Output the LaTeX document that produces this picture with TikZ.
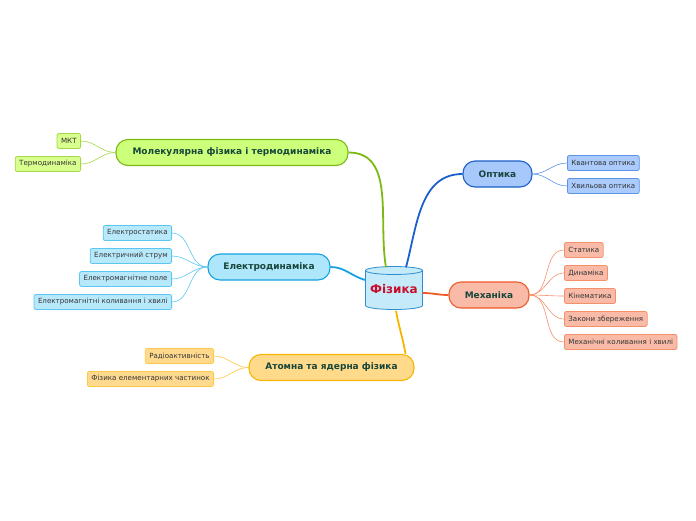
\documentclass[tikz,border=0pt]{standalone}
\usepackage{fontspec}
\setmainfont{DejaVu Sans}
\usetikzlibrary{calc}
\definecolor{cylfill}{HTML}{C5EAF9}
\definecolor{cylline}{HTML}{2E8FD0}
\definecolor{fiztext}{HTML}{C8102E}
\definecolor{maintext}{HTML}{17463A}
\definecolor{childtext}{HTML}{333333}
\definecolor{molfill}{HTML}{CCFF7A}\definecolor{molline}{HTML}{7DB813}
\definecolor{molcfill}{HTML}{D9FF8F}\definecolor{molcline}{HTML}{A6D64A}
\definecolor{elfill}{HTML}{AEE6FB}\definecolor{elline}{HTML}{16A2E2}
\definecolor{elcfill}{HTML}{B8E9FB}\definecolor{elcline}{HTML}{5CC6F2}
\definecolor{atfill}{HTML}{FFDA8A}\definecolor{atline}{HTML}{F7B500}
\definecolor{atcfill}{HTML}{FFDA8E}\definecolor{atcline}{HTML}{FFC846}
\definecolor{opfill}{HTML}{A6C8FA}\definecolor{opline}{HTML}{1A5FCC}
\definecolor{opcfill}{HTML}{AACBFB}\definecolor{opcline}{HTML}{5E93EA}
\definecolor{mefill}{HTML}{F9BBA8}\definecolor{meline}{HTML}{EF5A28}
\definecolor{mecfill}{HTML}{F9BBA8}\definecolor{mecline}{HTML}{F5906B}
\tikzset{
  mainbox/.style={rounded corners=12pt, line width=1.1pt, minimum height=26pt, inner xsep=4pt,
    font=\fontsize{9}{11}\selectfont\bfseries, text=maintext},
  childbox/.style={rounded corners=2pt, line width=0.8pt, minimum height=15pt, inner xsep=4pt, inner ysep=0pt,
    font=\fontsize{7.1}{8.5}\selectfont, text=childtext},
  mainlink/.style={line width=1.8pt},
  childlink/.style={line width=0.6pt},
  cylshape/.style={draw=cylline, fill=cylfill, line width=0.8pt},
}
\begin{document}
\begin{tikzpicture}[x=1pt,y=-1pt]
\useasboundingbox (0,0) rectangle (696,520);
% center cylinder
\path[cylshape] (365.5,270.5) -- (365.5,305.5)
  arc[start angle=180, end angle=0, x radius=28.5, y radius=4]
  -- (422.5,270.5)
  arc[start angle=0, end angle=-180, x radius=28.5, y radius=4] -- cycle;
\draw[cylshape, fill=none] (365.5,270.5) arc[start angle=180, end angle=0, x radius=28.5, y radius=4];
\node[minimum width=57pt, minimum height=43pt, inner sep=0pt,
  font=\fontsize{12}{14}\selectfont\bfseries, text=fiztext] (fiz) at (394,289) {Фізика};
% main nodes
\node[mainbox, fill=molfill, draw=molline, minimum width=232pt] (mol) at (232,152.5) {Молекулярна фізика і термодинаміка};
\node[mainbox, fill=elfill, draw=elline, minimum width=122pt] (el) at (269,267) {Електродинаміка};
\node[mainbox, fill=atfill, draw=atline, minimum width=165pt] (at) at (331.5,367.5) {Атомна та ядерна фізика};
\node[mainbox, fill=opfill, draw=opline, minimum width=69pt] (op) at (497.5,174) {Оптика};
\node[mainbox, fill=mefill, draw=meline, minimum width=80pt] (me) at (489,295) {Механіка};
% children molecular
\node[childbox, fill=molcfill, draw=molcline, anchor=east] (mkt) at (81,141) {МКТ};
\node[childbox, fill=molcfill, draw=molcline, anchor=east] (td) at (81,164) {Термодинаміка};
% children electro
\node[childbox, fill=elcfill, draw=elcline, anchor=east] (e1) at (172,233) {Електростатика};
\node[childbox, fill=elcfill, draw=elcline, anchor=east] (e2) at (172,256) {Електричний струм};
\node[childbox, fill=elcfill, draw=elcline, anchor=east] (e3) at (172,279) {Електромагнітне поле};
\node[childbox, fill=elcfill, draw=elcline, anchor=east] (e4) at (172,302) {Електромагнітні коливання і хвилі};
% children atomic
\node[childbox, fill=atcfill, draw=atcline, anchor=east] (a1) at (214,356) {Радіоактивність};
\node[childbox, fill=atcfill, draw=atcline, anchor=east] (a2) at (214,379) {Фізика елементарних частинок};
% children optics
\node[childbox, fill=opcfill, draw=opcline, anchor=west] (o1) at (567,163) {Квантова оптика};
\node[childbox, fill=opcfill, draw=opcline, anchor=west] (o2) at (567,186) {Хвильова оптика};
% children mechanics
\node[childbox, fill=mecfill, draw=mecline, anchor=west] (m1) at (564,250) {Статика};
\node[childbox, fill=mecfill, draw=mecline, anchor=west] (m2) at (564,273) {Динаміка};
\node[childbox, fill=mecfill, draw=mecline, anchor=west] (m3) at (564,296) {Кінематика};
\node[childbox, fill=mecfill, draw=mecline, anchor=west] (m4) at (564,319) {Закони збереження};
\node[childbox, fill=mecfill, draw=mecline, anchor=west] (m5) at (564,342) {Механічні коливання і хвилі};
% main links
\draw[mainlink, draw=molline] (mol.east) to[out=0,in=100] ([xshift=-8pt]fiz.north);
\draw[mainlink, draw=opline] (op.west) to[out=180,in=75] ([xshift=12pt]fiz.north);
\draw[mainlink, draw=elline] (el.east) to[out=0,in=165] ([yshift=9pt]fiz.west);
\draw[mainlink, draw=meline] ([yshift=-4pt]fiz.east) to[out=0,in=180] (me.west);
\draw[mainlink, draw=atline] ([xshift=2pt]fiz.south) to[out=-80,in=100] ([xshift=-9pt]at.north east);
% child links
\foreach \c in {mkt,td} \draw[childlink, draw=molcline] (mol.west) to[out=180,in=0] (\c.east);
\foreach \c in {e1,e2,e3,e4} \draw[childlink, draw=elcline] (el.west) to[out=180,in=0] (\c.east);
\foreach \c in {a1,a2} \draw[childlink, draw=atcline] (at.west) to[out=180,in=0] (\c.east);
\foreach \c in {o1,o2} \draw[childlink, draw=opcline] (op.east) to[out=0,in=180] (\c.west);
\foreach \c in {m1,m2,m3,m4,m5} \draw[childlink, draw=mecline] (me.east) to[out=0,in=180] (\c.west);
\end{tikzpicture}
\end{document}
